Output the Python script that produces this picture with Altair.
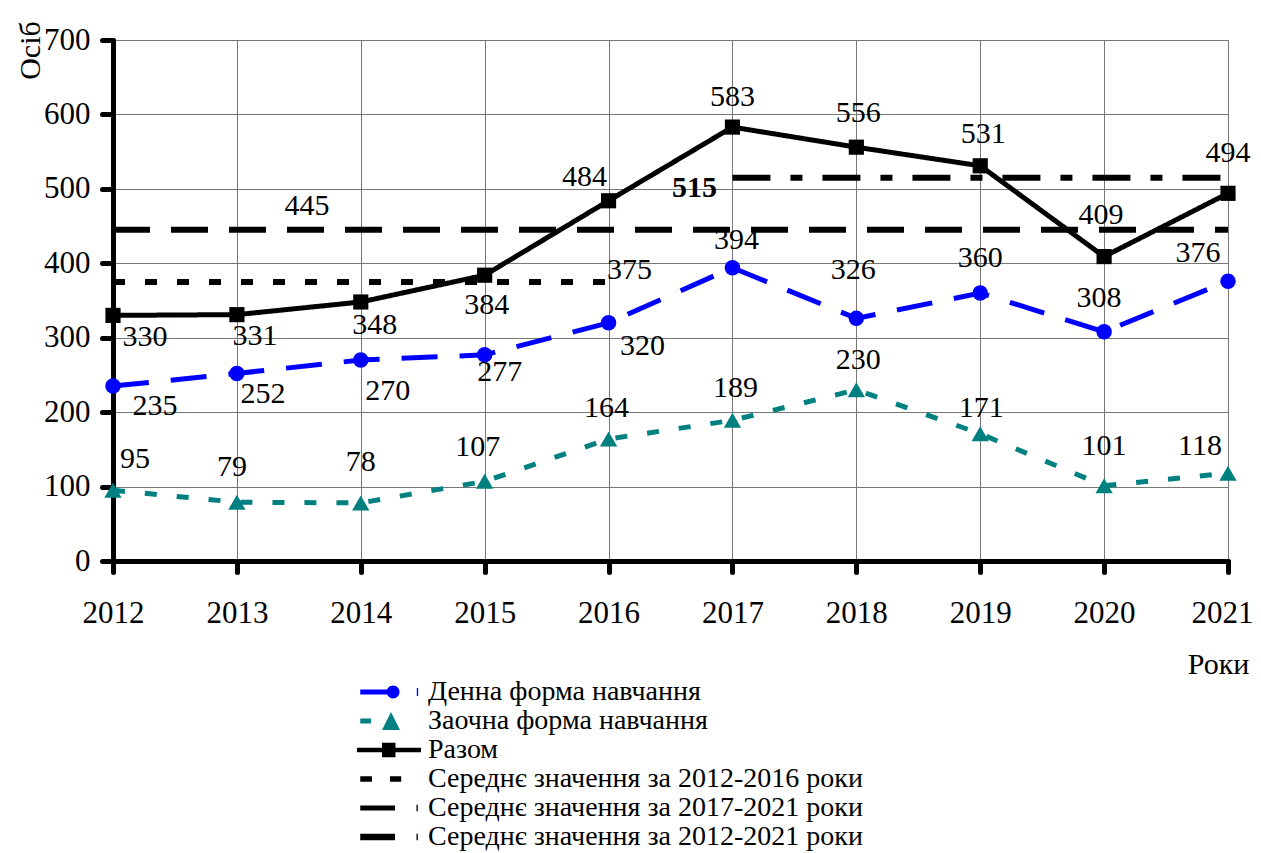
import altair as alt
import pandas as pd

# ---------------- data ----------------
years = [2012, 2013, 2014, 2015, 2016, 2017, 2018, 2019, 2020, 2021]
full_time = [235, 252, 270, 277, 320, 394, 326, 360, 308, 376]
part_time = [95, 79, 78, 107, 164, 189, 230, 171, 101, 118]
total = [330, 331, 348, 384, 484, 583, 556, 531, 409, 494]

series_names = ["Денна форма навчання", "Заочна форма навчання", "Разом"]
avg_names = ["Середнє значення за 2012-2016 роки",
             "Середнє значення за 2017-2021 роки",
             "Середнє значення за 2012-2021 роки"]
avg_values = [375, 515, 445]
avg_from = [2012, 2017, 2012]
avg_to = [2016, 2021, 2021]

y_ticks = [0, 100, 200, 300, 400, 500, 600, 700]

# ---------------- label placement (pixel offsets, not data) ----------------
full_off = [(42, 20), (26, 21), (27, 31), (15, 17), (34, 23), (4, -28), (-3, -48), (0, -35), (-5, -34), (-30, -28)]
part_off = [(22, -31), (-5, -35), (0, -41), (-7, -34), (-2, -31), (3, -32), (2, -30), (1, -26), (0, -40), (-28, -27)]
total_off = [(32, 22), (18, 21), (14, 23), (2, 30), (-24, -24), (0, -30), (2, -34), (3, -32), (-3, -42), (0, -40)]
avg_label_anchor = [2016, 2017, 2012]
avg_label_off = [(21, -12), (-38, 10), (194, -24)]
avg_label_bold = [False, True, False]

FONT = '"Liberation Serif", "Times New Roman", serif'

colors = {"Денна форма навчання": "#0000FF", "Заочна форма навчання": "#008080", "Разом": "#000000"}

rows = []
for name, vals, offs in [(series_names[0], full_time, full_off),
                         (series_names[1], part_time, part_off),
                         (series_names[2], total, total_off)]:
    for y, v, (dx, dy) in zip(years, vals, offs):
        rows.append({"year": y, "value": v, "series": name, "label": str(v), "dx": dx, "dy": dy})
df = pd.DataFrame(rows)

avg_df = pd.DataFrame({"series": avg_names, "value": avg_values, "x1": avg_from, "x2": avg_to})
avg_lab = pd.DataFrame({
    "year": avg_label_anchor, "value": avg_values, "label": [str(v) for v in avg_values],
    "dx": [o[0] for o in avg_label_off], "dy": [o[1] for o in avg_label_off],
    "bold": avg_label_bold,
})

xs = alt.X("year:Q", scale=alt.Scale(domain=[2012, 2021], nice=False, zero=False),
           axis=alt.Axis(values=years, format="d", title="Роки", grid=True,
                         titleX=1105, titleY=103, titleAngle=0, titleAlign="center",
                         titleBaseline="middle", labelPadding=26,
                         labelOffset={"condition": {"test": "datum.value == 2021", "value": -6}, "value": 0},
                         labelFlush=False, labelOverlap=False, labelBound=False))
ys = alt.Y("value:Q", scale=alt.Scale(domain=[0, 700], nice=False),
           axis=alt.Axis(values=y_ticks, title="Осіб", grid=True,
                         titleX=-83, titleY=10, titleAngle=270, titleAlign="center",
                         titleBaseline="middle", labelPadding=12,
                         labelFlush=False, labelOverlap=False, labelBound=False))

base = alt.Chart(df)

# average lines
dash_map = {avg_names[0]: [12, 20], avg_names[1]: [38, 20, 12, 20], avg_names[2]: [37, 21]}
avg_layers = []
for n in avg_names:
    avg_layers.append(
        alt.Chart(avg_df).transform_filter(alt.datum.series == n).mark_rule(
            color="black", strokeWidth=6, strokeDash=dash_map[n], strokeCap="butt"
        ).encode(x=alt.X("x1:Q"), x2="x2:Q", y=alt.Y("value:Q"))
    )

line_dash = {series_names[0]: [36, 22], series_names[1]: [12, 20], series_names[2]: [1, 0]}
shape_map = {series_names[0]: "circle", series_names[1]: "triangle-up", series_names[2]: "square"}
size_map = {series_names[0]: 240, series_names[1]: 300, series_names[2]: 230}

line_layers = []
point_layers = []
for n in [series_names[1], series_names[0], series_names[2]]:
    sub = base.transform_filter(alt.datum.series == n)
    line_layers.append(sub.mark_line(color=colors[n], strokeWidth=5, strokeDash=line_dash[n],
                                     strokeCap="butt").encode(x=xs, y=ys))
    point_layers.append(sub.mark_point(shape=shape_map[n], filled=True, opacity=1,
                                       color=colors[n], size=size_map[n]).encode(x="year:Q", y="value:Q"))

labels = base.mark_text(font=FONT, fontSize=30, color="black", align="center", baseline="middle",
                        dx=alt.ExprRef(expr="datum.dx"), dy=alt.ExprRef(expr="datum.dy")).encode(
    x="year:Q", y="value:Q", text="label:N")

avg_text = alt.Chart(avg_lab).mark_text(font=FONT, fontSize=30, color="black", align="center",
                                        baseline="middle",
                                        dx=alt.ExprRef(expr="datum.dx"), dy=alt.ExprRef(expr="datum.dy"),
                                        fontWeight=alt.ExprRef(expr="datum.bold ? 'bold' : 'normal'")).encode(
    x="year:Q", y="value:Q", text="label:N")

# legend (drawn by Vega's legend from custom symbol paths; unit = 15 px)
legend_names = series_names + avg_names
legend_colors = ["#0000FF", "#008080", "#000000", "#000000", "#000000", "#000000"]
legend_paths = [
    "M-3.05,-0.17L-0.92,-0.17L-0.92,0.17L-3.05,0.17Z "
    "M-0.43,0A0.43,0.43 0 1,1 -1.29,0A0.43,0.43 0 1,1 -0.43,0Z "
    "M0.72,-0.26L0.81,-0.26L0.81,0.26L0.72,0.26Z",
    "M-3.05,-0.17L-2.33,-0.17L-2.33,0.17L-3.05,0.17Z M-1.0,-0.6L-0.4,0.6L-1.6,0.6Z",
    "M-3.27,-0.15L1.0,-0.15L1.0,0.15L-3.27,0.15Z M-1.6,-0.49L-0.7,-0.49L-0.7,0.49L-1.6,0.49Z",
    "M-3.05,-0.19L-2.27,-0.19L-2.27,0.19L-3.05,0.19Z M-1.07,-0.19L-0.32,-0.19L-0.32,0.19L-1.07,0.19Z",
    "M-3.05,-0.17L-0.73,-0.17L-0.73,0.17L-3.05,0.17Z M0.7,-0.21L0.79,-0.21L0.79,0.21L0.7,0.21Z",
    "M-3.05,-0.21L-0.73,-0.21L-0.73,0.21L-3.05,0.21Z M0.7,-0.21L0.79,-0.21L0.79,0.21L0.7,0.21Z",
]
leg = alt.Legend(title=None, orient="none", legendX=278, legendY=637, padding=0, offset=0,
                 labelFont=FONT, labelFontSize=28, labelColor="black", labelLimit=1000,
                 labelOffset=7, symbolSize=900, symbolStrokeWidth=0, symbolOpacity=1,
                 rowPadding=0)
legend_layer = base.transform_filter("false").mark_point(filled=True, opacity=1, size=900).encode(
    x="year:Q", y="value:Q",
    fill=alt.Fill("series:N", scale=alt.Scale(domain=legend_names, range=legend_colors), legend=leg, sort=None),
    shape=alt.Shape("series:N", scale=alt.Scale(domain=legend_names, range=legend_paths), legend=leg, sort=None),
)

chart = alt.layer(*avg_layers, *line_layers, *point_layers, labels, avg_text, legend_layer).properties(
    width=1115, height=521,
    autosize=alt.AutoSizeParams(type="none"),
    padding={"left": 105, "top": 32, "right": 25, "bottom": 292},
    background="white",
).configure_view(stroke=None).configure_axis(
    labelFont=FONT, labelFontSize=31, labelColor="black",
    titleFont=FONT, titleFontSize=30, titleColor="black", titleFontWeight="normal",
    gridColor="#777777", gridWidth=1, gridOpacity=1,
    domainColor="black", domainWidth=5, domainCap="round",
    tickColor="black", tickWidth=5, tickSize=11, tickCap="round",
)

chart.save("out.html", embed_options={"renderer": "svg", "actions": False})
